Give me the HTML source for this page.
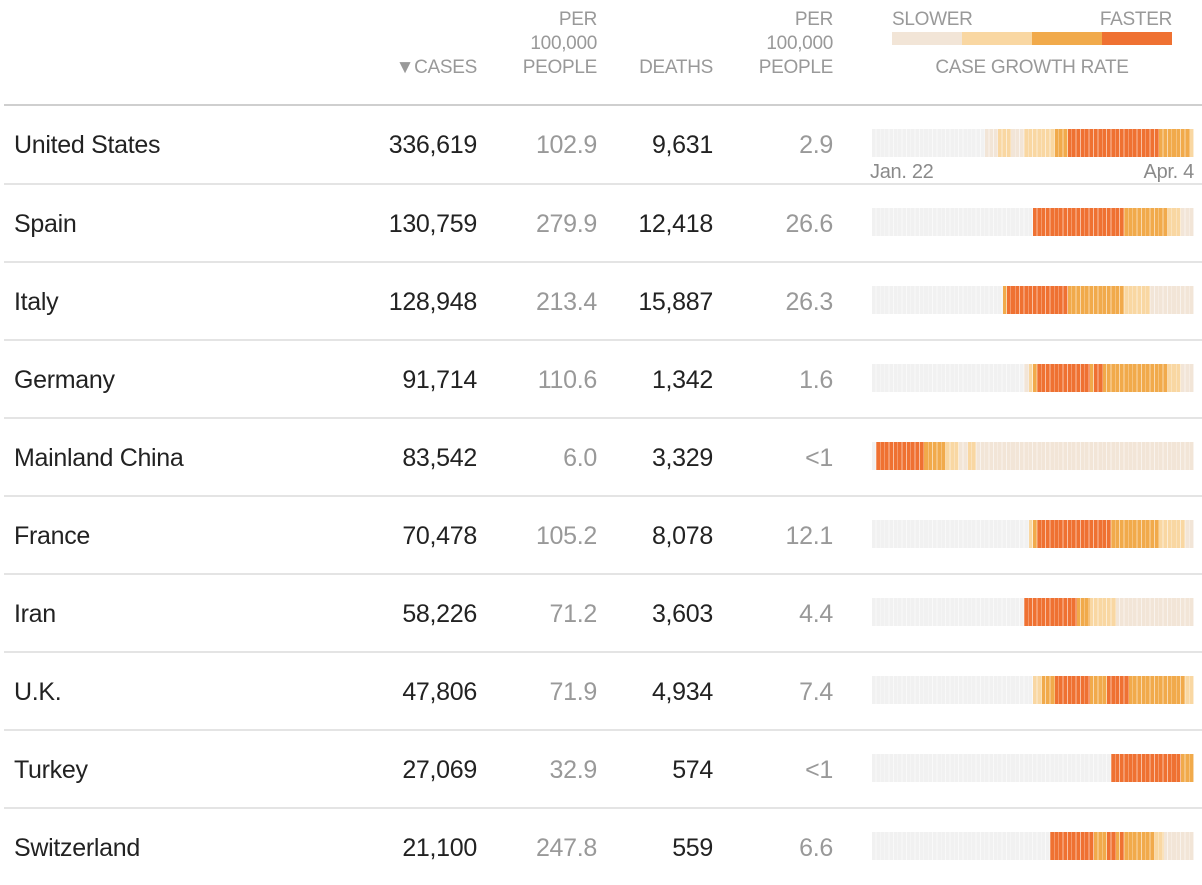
<!DOCTYPE html>
<html><head><meta charset="utf-8"><style>
body{margin:0;width:1202px;height:880px;overflow:hidden;background:#fff;font-family:"Liberation Sans",sans-serif;position:relative}
.h{position:absolute;color:#999;font-size:19px;line-height:24px;text-align:right;letter-spacing:-0.3px}
.row{position:absolute;left:4px;width:1198px;height:78px;border-top:2px solid #e4e4e4;box-sizing:border-box}
.row.first{border-top:2px solid #cfcfcf}
.c{position:absolute;top:24px;font-size:25px;line-height:30px;color:#222;letter-spacing:-0.3px}
.n{text-align:right;width:150px}
.g{color:#999}
.bar{position:absolute;left:868px;top:23px;width:322px;height:28px;display:flex}
.bar>div{height:100%}
.bar:after{content:"";position:absolute;left:0;top:0;right:0;bottom:0;background:repeating-linear-gradient(90deg,transparent 0,transparent 3.55px,rgba(255,255,255,.55) 3.55px,rgba(255,255,255,.55) 4.351px)}
.x{background:#f1f1f1}.a{background:#f2e5d7}.b{background:#f9d7a2}.o{background:#f1aa4b}.r{background:#ef7132}
</style></head><body>
<div class="h" style="left:300px;width:177px;top:56px"><span style="font-size:19px">▼</span>CASES</div>
<div class="h" style="left:480px;width:117px;top:8px">PER<br>100,000<br>PEOPLE</div>
<div class="h" style="left:600px;width:113px;top:56px">DEATHS</div>
<div class="h" style="left:720px;width:113px;top:8px">PER<br>100,000<br>PEOPLE</div>
<div class="h" style="left:892px;top:8px;text-align:left">SLOWER</div>
<div class="h" style="left:1050px;width:122px;top:8px">FASTER</div>
<div style="position:absolute;left:892px;top:32px;width:280px;height:13px;display:flex"><div class="a" style="flex:1"></div><div class="b" style="flex:1"></div><div class="o" style="flex:1"></div><div class="r" style="flex:1"></div></div>
<div class="h" style="left:892px;width:280px;top:56px;text-align:center">CASE GROWTH RATE</div>

<div class="row first" style="top:104px">
<div class="c" style="left:10px">United States</div><div class="c n" style="left:323px">336,619</div><div class="c n g" style="left:443px">102.9</div><div class="c n" style="left:559px">9,631</div><div class="c n g" style="left:679px">2.9</div>
<div class="bar"><div class="x" style="flex:26"></div><div class="a" style="flex:3"></div><div class="b" style="flex:3"></div><div class="a" style="flex:3"></div><div class="b" style="flex:7"></div><div class="o" style="flex:3"></div><div class="r" style="flex:21"></div><div class="o" style="flex:7"></div><div class="b" style="flex:1"></div></div>
<div class="h" style="left:866px;top:54px;font-size:20px;color:#8a8a8a;text-align:left">Jan. 22</div><div class="h" style="left:1090px;width:100px;top:54px;font-size:20px;color:#8a8a8a">Apr. 4</div>
</div>
<div class="row" style="top:183px">
<div class="c" style="left:10px">Spain</div><div class="c n" style="left:323px">130,759</div><div class="c n g" style="left:443px">279.9</div><div class="c n" style="left:559px">12,418</div><div class="c n g" style="left:679px">26.6</div>
<div class="bar"><div class="x" style="flex:37"></div><div class="r" style="flex:21"></div><div class="o" style="flex:10"></div><div class="b" style="flex:3"></div><div class="a" style="flex:3"></div></div></div>
<div class="row" style="top:261px">
<div class="c" style="left:10px">Italy</div><div class="c n" style="left:323px">128,948</div><div class="c n g" style="left:443px">213.4</div><div class="c n" style="left:559px">15,887</div><div class="c n g" style="left:679px">26.3</div>
<div class="bar"><div class="x" style="flex:30"></div><div class="o" style="flex:1"></div><div class="r" style="flex:14"></div><div class="o" style="flex:13"></div><div class="b" style="flex:6"></div><div class="a" style="flex:10"></div></div></div>
<div class="row" style="top:339px">
<div class="c" style="left:10px">Germany</div><div class="c n" style="left:323px">91,714</div><div class="c n g" style="left:443px">110.6</div><div class="c n" style="left:559px">1,342</div><div class="c n g" style="left:679px">1.6</div>
<div class="bar"><div class="x" style="flex:35"></div><div class="a" style="flex:1"></div><div class="b" style="flex:1"></div><div class="o" style="flex:1"></div><div class="r" style="flex:12"></div><div class="o" style="flex:1"></div><div class="r" style="flex:2"></div><div class="o" style="flex:15"></div><div class="b" style="flex:3"></div><div class="a" style="flex:3"></div></div></div>
<div class="row" style="top:417px">
<div class="c" style="left:10px">Mainland China</div><div class="c n" style="left:323px">83,542</div><div class="c n g" style="left:443px">6.0</div><div class="c n" style="left:559px">3,329</div><div class="c n g" style="left:679px">&lt;1</div>
<div class="bar"><div class="x" style="flex:1"></div><div class="r" style="flex:11"></div><div class="o" style="flex:5"></div><div class="b" style="flex:3"></div><div class="a" style="flex:2"></div><div class="b" style="flex:2"></div><div class="a" style="flex:50"></div></div></div>
<div class="row" style="top:495px">
<div class="c" style="left:10px">France</div><div class="c n" style="left:323px">70,478</div><div class="c n g" style="left:443px">105.2</div><div class="c n" style="left:559px">8,078</div><div class="c n g" style="left:679px">12.1</div>
<div class="bar"><div class="x" style="flex:36"></div><div class="b" style="flex:1"></div><div class="o" style="flex:1"></div><div class="r" style="flex:17"></div><div class="o" style="flex:11"></div><div class="b" style="flex:6"></div><div class="a" style="flex:2"></div></div></div>
<div class="row" style="top:573px">
<div class="c" style="left:10px">Iran</div><div class="c n" style="left:323px">58,226</div><div class="c n g" style="left:443px">71.2</div><div class="c n" style="left:559px">3,603</div><div class="c n g" style="left:679px">4.4</div>
<div class="bar"><div class="x" style="flex:35"></div><div class="r" style="flex:12"></div><div class="o" style="flex:3"></div><div class="b" style="flex:6"></div><div class="a" style="flex:18"></div></div></div>
<div class="row" style="top:651px">
<div class="c" style="left:10px">U.K.</div><div class="c n" style="left:323px">47,806</div><div class="c n g" style="left:443px">71.9</div><div class="c n" style="left:559px">4,934</div><div class="c n g" style="left:679px">7.4</div>
<div class="bar"><div class="x" style="flex:37"></div><div class="b" style="flex:2"></div><div class="o" style="flex:3"></div><div class="r" style="flex:8"></div><div class="o" style="flex:4"></div><div class="r" style="flex:5"></div><div class="o" style="flex:13"></div><div class="b" style="flex:2"></div></div></div>
<div class="row" style="top:729px">
<div class="c" style="left:10px">Turkey</div><div class="c n" style="left:323px">27,069</div><div class="c n g" style="left:443px">32.9</div><div class="c n" style="left:559px">574</div><div class="c n g" style="left:679px">&lt;1</div>
<div class="bar"><div class="x" style="flex:55"></div><div class="r" style="flex:16"></div><div class="o" style="flex:3"></div></div></div>
<div class="row" style="top:807px">
<div class="c" style="left:10px">Switzerland</div><div class="c n" style="left:323px">21,100</div><div class="c n g" style="left:443px">247.8</div><div class="c n" style="left:559px">559</div><div class="c n g" style="left:679px">6.6</div>
<div class="bar"><div class="x" style="flex:41"></div><div class="r" style="flex:10"></div><div class="o" style="flex:3"></div><div class="r" style="flex:2"></div><div class="o" style="flex:1"></div><div class="r" style="flex:1"></div><div class="o" style="flex:7"></div><div class="b" style="flex:2"></div><div class="a" style="flex:7"></div></div></div>
</body></html>
